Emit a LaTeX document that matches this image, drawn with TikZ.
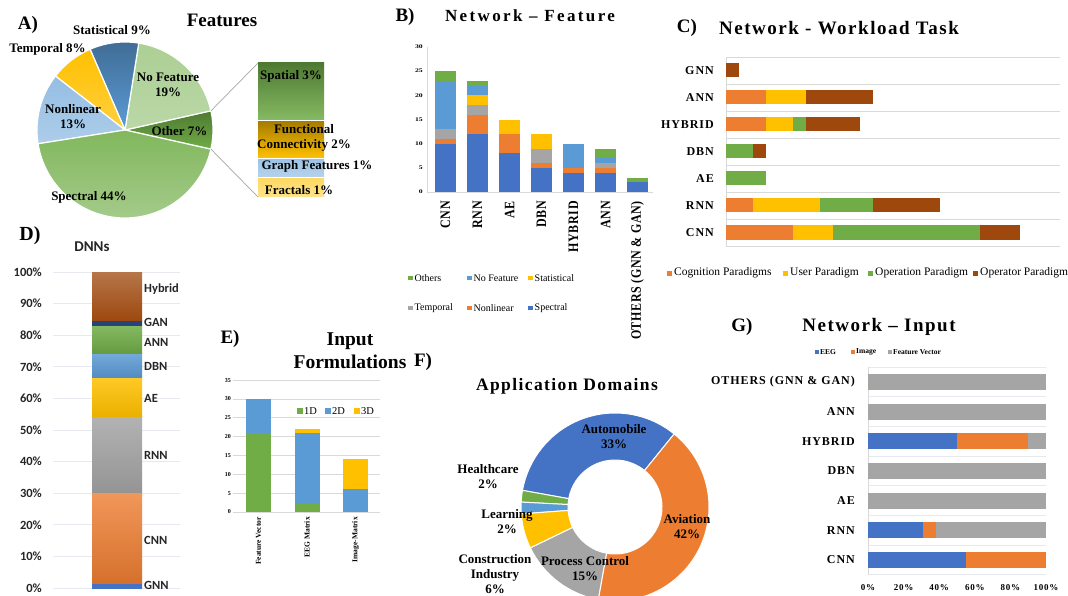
\documentclass[tikz,border=0pt]{standalone}
\usepackage{fontspec}
\setmainfont{Liberation Serif}
\newfontfamily\calfont{Carlito}
\newfontfamily\spfont[LetterSpace=8]{Liberation Serif}
\newfontfamily\spwide[LetterSpace=14]{Liberation Serif}
\newfontfamily\spthin[LetterSpace=5]{Liberation Serif}
\newcommand\fsz[2]{\fontsize{#1}{#2}\selectfont}
\definecolor{xblue}{HTML}{4472C4}
\definecolor{xorange}{HTML}{ED7D31}
\definecolor{xgray}{HTML}{A5A5A5}
\definecolor{xyellow}{HTML}{FFC000}
\definecolor{xlblue}{HTML}{5B9BD5}
\definecolor{xgreen}{HTML}{70AD47}
\definecolor{xbrown}{HTML}{9E480E}
\definecolor{xnavy}{HTML}{264478}
\definecolor{gridc}{HTML}{D9D9D9}
\definecolor{gridl}{HTML}{E6E9EF}
\newcommand\pieslice[5]{\path[pie,top color=#4,bottom color=#5] (0,0) -- ({-(#1)}:#3) arc[start angle={-(#1)}, end angle={-(#2)}, radius=#3] -- cycle;}
\newcommand\donut[3]{\fill[#3,draw=white,line width=1pt] ({-(#1)}:94) arc[start angle={-(#1)}, end angle={-(#2)}, radius=94] -- ({-(#2)}:47) arc[start angle={-(#2)}, end angle={-(#1)}, radius=47] -- cycle;}
\newcommand\bbar[4]{\fill[#4] ({435+32*#1},{192-4.833*#2}) rectangle ({456+32*#1},{192-4.833*#3});}
\newcommand\cbar[4]{\fill[#4] ({726+13.36*#2},{63.5+27*#1}) rectangle ({726+13.36*#3},{77.5+27*#1});}
\newcommand\dseg[4]{\shade[top color=#3,bottom color=#4] (92,{588-3.16*#1}) rectangle (142,{588-3.16*#2});}
\newcommand\ebar[4]{\fill[#4] ({246+48.5*#1},{512-3.77*#2}) rectangle ({271+48.5*#1},{512-3.77*#3});}
\newcommand\gbar[4]{\fill[#4] ({868+1.78*#2},{374+29.67*#1}) rectangle ({868+1.78*#3},{390+29.67*#1});}
\tikzset{
  pie/.style={draw=white,line width=1.2pt},
  panel/.style={font={\bfseries\fsz{19}{22}},inner sep=0pt},
  title/.style={font={\spfont\bfseries\fsz{19}{22}},inner sep=0pt},
  lab/.style={font={\bfseries\fsz{13}{15}},align=center,inner sep=0pt},
  btick/.style={font={\bfseries\fsz{5.5}{6}},anchor=east,inner sep=0pt,xscale=1.4},
  bcat/.style={font={\spthin\bfseries\fsz{12}{13}},inner sep=0pt,anchor=east,xscale=1.2,rotate=90},
  leg/.style={font={\fsz{10}{11}},anchor=west,inner sep=0pt},
  catlab/.style={font={\spfont\bfseries\fsz{12}{13}},anchor=east,inner sep=0pt},
  dlab/.style={font={\calfont\bfseries\fsz{12.5}{14}},inner sep=0pt,text=black!85},
}
\begin{document}
\begin{tikzpicture}[x=1pt,y=-1pt]
\useasboundingbox (0,0) rectangle (1068,596);
\fill[white] (0,0) rectangle (1068,596);

% ================= A) Features
\node[panel] (aA) at (28,25) {A)};
\node[panel] (aT) at (222,20) {Features};
\begin{scope}[shift={(125,130)}]
\pieslice{-12.6}{12.6}{88}{xgreen!70!black}{xgreen}
\pieslice{12.6}{81}{88}{xgreen!58}{xgreen!48}
\pieslice{81}{113.4}{88}{xlblue!70!black}{xlblue}
\pieslice{113.4}{142.2}{88}{xyellow}{xyellow!75}
\pieslice{142.2}{189}{88}{xlblue!65}{xlblue!50}
\pieslice{189}{347.4}{88}{xgreen!88}{xgreen!62}
\end{scope}
\shade[top color=xgreen!70!black,bottom color=xgreen!85] (258,63) rectangle (324,120);
\shade[top color=xyellow!65!black,bottom color=xyellow] (258,121.5) rectangle (324,158);
\shade[top color=xlblue!60,bottom color=xlblue!45] (258,159.5) rectangle (324,177);
\shade[top color=xyellow!60,bottom color=xyellow!45] (258,179) rectangle (324,197);
\coordinate (pieT) at (211,110.8);
\coordinate (pieB) at (211,149.2);
\coordinate (boxT) at (258,63);
\coordinate (boxB) at (258,197);
\draw[black!35,line width=0.7pt] (pieT) -- (boxT);
\draw[black!35,line width=0.7pt] (pieB) -- (boxB);
\node[lab] (a1) at (112,30) {Statistical 9\%};
\node[lab] (a2) at (47.5,49) {Temporal 8\%};
\node[lab] (a3) at (168,85) {No Feature\\19\%};
\node[lab] (a4) at (73,117) {Nonlinear\\13\%};
\node[lab] (a5) at (179.5,131) {Other 7\%};
\node[lab] (a6) at (89,197) {Spectral 44\%};
\node[lab] (a7) at (291,76) {Spatial 3\%};
\node[lab] (a8) at (304,138) {Functional\\Connectivity 2\%};
\node[lab] (a9) at (317,166) {Graph Features 1\%};
\node[lab] (a10) at (299,190) {Fractals 1\%};

% ================= B) Network - Feature
\node[panel] (bB) at (405,17) {B)};
\node[title,font={\spwide\bfseries\fsz{17}{20}}] (bT) at (530,16) {Network – Feature};
\draw[gridc,line width=0.8pt] (427,47) -- (427,192);
\draw[gridc,line width=0.8pt] (427,192) -- (653,192);
\foreach \v in {0,5,...,30} \node[btick] (bt\v) at (423,{192-4.833*\v}) {\v};
\bbar{0}{0}{10}{xblue}\bbar{0}{10}{11}{xorange}\bbar{0}{11}{13}{xgray}\bbar{0}{13}{23}{xlblue}\bbar{0}{23}{25}{xgreen}
\bbar{1}{0}{12}{xblue}\bbar{1}{12}{16}{xorange}\bbar{1}{16}{18}{xgray}\bbar{1}{18}{20}{xyellow}\bbar{1}{20}{22}{xlblue}\bbar{1}{22}{23}{xgreen}
\bbar{2}{0}{8}{xblue}\bbar{2}{8}{12}{xorange}\bbar{2}{12}{15}{xyellow}
\bbar{3}{0}{5}{xblue}\bbar{3}{5}{6}{xorange}\bbar{3}{6}{9}{xgray}\bbar{3}{9}{12}{xyellow}
\bbar{4}{0}{4}{xblue}\bbar{4}{4}{5}{xorange}\bbar{4}{5}{10}{xlblue}
\bbar{5}{0}{4}{xblue}\bbar{5}{4}{5}{xorange}\bbar{5}{5}{6}{xgray}\bbar{5}{6}{7}{xlblue}\bbar{5}{7}{9}{xgreen}
\bbar{6}{0}{2}{xblue}\bbar{6}{2}{3}{xgreen}
\foreach \i/\t in {0/CNN,1/RNN,2/AE,3/DBN,4/HYBRID,5/ANN,6/OTHERS (GNN \& GAN)}
  \node[bcat] (bc\i) at ({445.5+32*\i},201) {\t};
\foreach \x/\y/\c/\t [count=\n] in {408/278/xgreen/Others,467/278/xlblue/No Feature,528/278/xyellow/Statistical,408/308/xgray/Temporal,467/308/xorange/Nonlinear,528/308/xblue/Spectral}{
  \fill[\c] (\x,{\y-2.3}) rectangle ({\x+4.6},{\y+2.3});
  \node[leg] (bl\n) at ({\x+6.5},\y) {\t};
}

% ================= C) Network - Workload Task
\node[panel] (cC) at (687,28) {C)};
\node[title] (cT) at (839,28) {Network - Workload Task};
\foreach \k in {0,...,7} \draw[gridc,line width=0.7pt] (726,{57+27*\k}) -- (1060,{57+27*\k});
\draw[gridc,line width=0.7pt] (726,57) -- (726,246);
\cbar{0}{0}{1}{xbrown}
\cbar{1}{0}{3}{xorange}\cbar{1}{3}{6}{xyellow}\cbar{1}{6}{11}{xbrown}
\cbar{2}{0}{3}{xorange}\cbar{2}{3}{5}{xyellow}\cbar{2}{5}{6}{xgreen}\cbar{2}{6}{10}{xbrown}
\cbar{3}{0}{2}{xgreen}\cbar{3}{2}{3}{xbrown}
\cbar{4}{0}{3}{xgreen}
\cbar{5}{0}{2}{xorange}\cbar{5}{2}{7}{xyellow}\cbar{5}{7}{11}{xgreen}\cbar{5}{11}{16}{xbrown}
\cbar{6}{0}{5}{xorange}\cbar{6}{5}{8}{xyellow}\cbar{6}{8}{19}{xgreen}\cbar{6}{19}{22}{xbrown}
\foreach \k/\t in {0/GNN,1/ANN,2/HYBRID,3/DBN,4/AE,5/RNN,6/CNN}
  \node[catlab] (cl\k) at (714,{70.5+27*\k}) {\t};
\foreach \x/\c/\t [count=\n] in {667/xorange/Cognition Paradigms,783/xyellow/User Paradigm,868/xgreen/Operation Paradigm,973/xbrown/Operator Paradigm}{
  \fill[\c] (\x,270.5) rectangle ({\x+5},275.5);
  \node[leg,font={\fsz{11.5}{12}}] (cg\n) at ({\x+7},273) {\t};
}

% ================= D) DNNs
\node[panel,font={\bfseries\fsz{20}{22}}] (dD) at (30,236) {D)};
\node[dlab,font={\calfont\bfseries\fsz{15}{16}}] (dT) at (92,247) {DNNs};
\foreach \p in {0,10,...,100}{
  \draw[gridl,line width=0.7pt] (53,{588-3.16*\p}) -- (180,{588-3.16*\p});
  \node[dlab,anchor=east] (dy\p) at (42,{588-3.16*\p}) {\p\%};
}
\dseg{0}{1.4}{xblue}{xblue}
\dseg{1.4}{30.2}{xorange!80}{xorange!90!black}
\dseg{30.2}{54.4}{xgray!85}{xgray!90!black}
\dseg{54.4}{66.5}{xyellow!85}{xyellow!92!black}
\dseg{66.5}{74.2}{xlblue!85}{xlblue!90!black}
\dseg{74.2}{83.2}{xgreen!85}{xgreen!90!black}
\dseg{83.2}{84.5}{xnavy}{xnavy}
\dseg{84.5}{100}{xbrown!75}{xbrown}
\foreach \y/\t [count=\n] in {289/Hybrid,322/GAN,342/ANN,366/DBN,398/AE,455/RNN,540/CNN,585/GNN}
  \node[dlab,anchor=west] (dl\n) at (144,\y) {\t};

% ================= E) Input Formulations
\node[panel] (eE) at (230,339) {E)};
\node[lab,font={\bfseries\fsz{19.5}{23}}] (eT) at (350,350.5) {Input\\Formulations};
\foreach \v in {0,5,...,35}{
  \draw[gridc,line width=0.7pt] (233,{512-3.77*\v}) -- (380,{512-3.77*\v});
  \node[btick,xscale=1/1.4,font={\bfseries\fsz{6}{7}}] (ey\v) at (231,{512-3.77*\v}) {\v};
}
\ebar{0}{0}{21}{xgreen}\ebar{0}{21}{30}{xlblue}
\ebar{1}{0}{2}{xgreen}\ebar{1}{2}{21}{xlblue}\ebar{1}{21}{22}{xyellow}
\ebar{2}{0}{6}{xlblue}\ebar{2}{6}{14}{xyellow}
\foreach \i/\t in {0/Feature Vector,1/EEG Matrix,2/Image-Matrix}
  \node[font={\bfseries\fsz{7.5}{8}},inner sep=0pt,anchor=east,rotate=90] (ex\i) at ({258.5+48.5*\i},517) {\t};
\foreach \x/\c/\t [count=\n] in {297/xgreen/1D,325/xlblue/2D,354/xyellow/3D}{
  \fill[\c] (\x,408) rectangle ({\x+5.5},413.5);
  \node[leg,font={\fsz{10.5}{12}}] (el\n) at ({\x+7},411) {\t};
}

% ================= F) Application Domains
\node[panel] (fF) at (423,362) {F)};
\node[title,font={\spfont\bfseries\fsz{17.5}{20}}] (fT) at (567,386) {Application Domains};
\begin{scope}[shift={(615,507)}]
\donut{51}{169.8}{xblue}
\donut{169.8}{177}{xgreen}
\donut{177}{184.2}{xlblue}
\donut{184.2}{205.8}{xyellow}
\donut{205.8}{259.8}{xgray}
\donut{259.8}{411}{xorange}
\end{scope}
\node[lab] (f1) at (614,437) {Automobile\\33\%};
\node[lab] (f2) at (687,527) {Aviation\\42\%};
\node[lab] (f3) at (585,569) {Process Control\\15\%};
\node[lab] (f4) at (495,574.5) {Construction\\Industry\\6\%};
\node[lab] (f5) at (507,522) {Learning\\2\%};
\node[lab] (f6) at (488,477) {Healthcare\\2\%};

% ================= G) Network - Input
\node[panel] (gG) at (742,327) {G)};
\node[title] (gT) at (879,327) {Network – Input};
\foreach \x/\c/\t [count=\n] in {815/xblue/EEG,851/xorange/Image,888/xgray/Feature Vector}{
  \fill[\c] (\x,350.2) rectangle ({\x+3.6},353.8);
  \node[leg,font={\bfseries\fsz{7.5}{8}}] (gl\n) at ({\x+5},352) {\t};
}
\foreach \k in {0,...,7} \draw[gridl,line width=0.7pt] (868,{367+29.67*\k}) -- (1046,{367+29.67*\k});
\draw[gridc,line width=0.7pt] (868,367) -- (868,575);
\gbar{0}{0}{100}{xgray}
\gbar{1}{0}{100}{xgray}
\gbar{2}{0}{50}{xblue}\gbar{2}{50}{90}{xorange}\gbar{2}{90}{100}{xgray}
\gbar{3}{0}{100}{xgray}
\gbar{4}{0}{100}{xgray}
\gbar{5}{0}{31}{xblue}\gbar{5}{31}{38}{xorange}\gbar{5}{38}{100}{xgray}
\gbar{6}{0}{55}{xblue}\gbar{6}{55}{100}{xorange}
\foreach \k/\t in {0/OTHERS (GNN \& GAN),1/ANN,2/HYBRID,3/DBN,4/AE,5/RNN,6/CNN}
  \node[catlab] (gc\k) at (855,{382+29.67*\k}) {\t};
\foreach \p in {0,20,...,100}
  \node[font={\spfont\bfseries\fsz{9}{10}},inner sep=0pt] (gx\p) at ({868+1.78*\p},588) {\p\%};
\end{tikzpicture}
\end{document}
